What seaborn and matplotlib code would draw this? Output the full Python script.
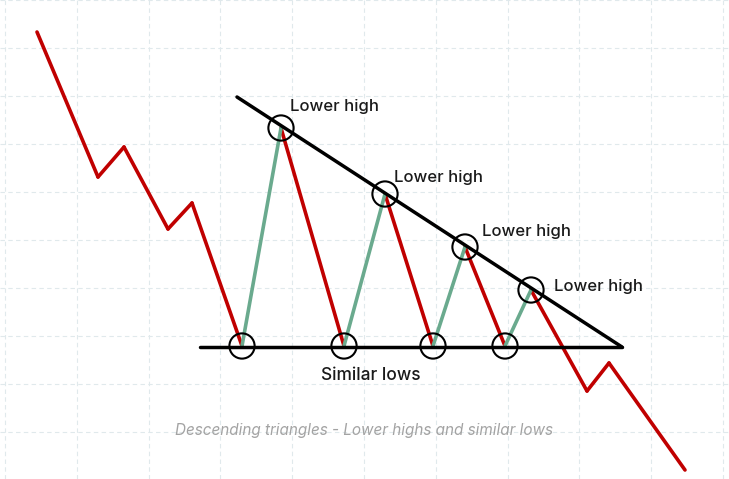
import numpy as np
import pandas as pd
import matplotlib.pyplot as plt
import seaborn as sns

# price path (time, price)
time = [37, 98, 124, 168, 192, 242, 281, 344, 385, 433, 465, 505, 531, 587, 609, 685]
price = [447, 302, 332, 250, 276, 133, 351, 133, 285, 133, 232, 133, 189, 88, 116, 9]

# legs that go up inside the triangle (start index of each leg)
up_legs = [5, 7, 9, 11]
lows_idx = [5, 7, 9, 11]
highs_idx = [6, 8, 10, 12]

# trend lines
resist_t = [237, 622]
resist_p = [382, 132]
support_t = [200, 622]
support_p = [132, 132]

# label positions (time, price)
high_label = "Lower high"
high_label_t = [290, 394, 482, 554]
high_label_p = [373, 302, 248, 193]
low_label = "Similar lows"
caption = "Descending triangles - Lower highs and similar lows"

red = "#c00000"
green = "#6aaa8e"

sns.set_style("whitegrid", {"grid.linestyle": (0, (4, 3)), "grid.color": "#e0e9ec"})
plt.rcParams['font.family'] = ['Inter', 'DejaVu Sans']

fig = plt.figure(figsize=(7.29, 4.79), dpi=100)
ax = fig.add_axes([0, 0, 1, 1])

# one row per leg end, so each leg gets its own colour
rows = []
for i in range(len(time) - 1):
    kind = "up" if i in up_legs else "down"
    rows.append({"leg": i, "kind": kind, "time": time[i], "price": price[i]})
    rows.append({"leg": i, "kind": kind, "time": time[i + 1], "price": price[i + 1]})
legs = pd.DataFrame(rows)

sns.lineplot(data=legs, x="time", y="price", hue="kind", units="leg",
             palette={"down": red, "up": green}, linewidth=2.6,
             sort=False, estimator=None, legend=False, ax=ax, zorder=3)

# trend lines
sns.lineplot(x=resist_t, y=resist_p, color="black", linewidth=2.5, ax=ax, zorder=4)
sns.lineplot(x=support_t, y=support_p, color="black", linewidth=2.5, ax=ax, zorder=4)

# circles at pivots
piv = pd.DataFrame({"time": time, "price": price}).iloc[lows_idx + highs_idx]
ax.scatter(piv["time"], piv["price"], s=330, facecolors="none",
           edgecolors="black", linewidths=1.5, zorder=5)

# labels
for t, p in zip(high_label_t, high_label_p):
    ax.text(t, p, high_label, fontsize=12, fontweight="medium", ha="left",
            va="center", color="#1a1a1a", zorder=6)
ax.text(371, 104, low_label, fontsize=12.5, fontweight="medium", ha="center",
        va="center", color="#1a1a1a", zorder=6)
ax.text(364, 49, caption, fontsize=11, style="italic", ha="center",
        va="center", color="#a3a3a3", zorder=6)

ax.set_xlim(0, 729)
ax.set_ylim(0, 479)
ax.set_xticks(np.arange(5, 729, 71.8))
ax.set_yticks(np.arange(479, 0, -48))
ax.set_xticklabels([])
ax.set_yticklabels([])
ax.tick_params(length=0)
ax.set_xlabel("")
ax.set_ylabel("")
for s in ax.spines.values():
    s.set_visible(False)

fig.savefig("out.png", dpi=100)
